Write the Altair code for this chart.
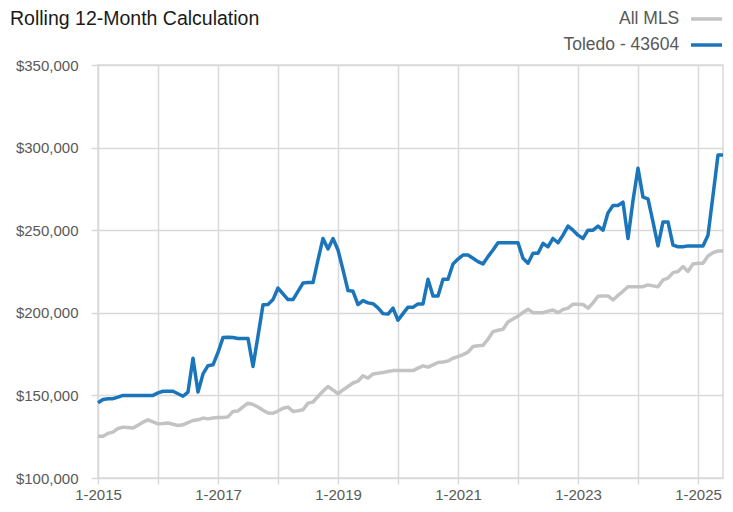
import altair as alt
import pandas as pd

FONT = "Liberation Sans, Arial, sans-serif"

series_names = ["All MLS", "Toledo - 43604"]
series_colors = ["#c3c3c3", "#1b75bb"]

start_year = 2015
# monthly values, Jan 2015 .. Jun 2025 (thousands of dollars)
all_mls = [
    125.2, 125.2, 127, 127.8, 130, 130.8, 130.5, 130.2, 132, 133.8, 135.2, 134,
    132.8, 133, 133.3, 132.5, 131.8, 132.2, 133.5, 134.8, 135.2, 136.3, 135.8, 136.3,
    136.6, 136.6, 137, 140.3, 140.6, 143, 145.3, 144.5, 143, 141, 139.3, 139.2,
    140.5, 142.2, 142.9, 140.3, 140.7, 141.3, 145.3, 146, 149.3, 152.5, 155.4, 153.3,
    151, 153.3, 155.4, 157.5, 158.6, 161.9, 160.5, 163, 163.4, 163.8, 164.5, 165,
    165, 165, 165, 165, 166.5, 167.9, 167.1, 168.5, 169.9, 170.2, 170.8, 172.5,
    173.5, 174.7, 176.2, 179.6, 180, 180.3, 184, 188.6, 189.4, 190, 194.5, 196.3,
    198, 200.2, 202.2, 200.1, 200.1, 200.1, 201, 201.7, 200.1, 202, 202.8, 205.2,
    205.2, 205, 202.8, 206, 210, 210.2, 210.2, 207.8, 210.5, 213, 215.8, 215.8,
    215.8, 215.8, 216.9, 216.3, 215.8, 219.9, 221, 224.3, 225, 228, 225, 229.6,
    230, 230, 234.4, 236.4, 237.4, 237.4,
]
toledo = [
    145.5, 147.5, 148, 148, 149, 150, 150, 150, 150, 150, 150, 150,
    151.5, 152.5, 152.5, 152.5, 151, 149.5, 152, 172.5, 152, 163, 168, 168.5,
    176, 185, 185.2, 185, 184.5, 184.5, 184.5, 167.5, 186, 204.8, 205, 208,
    215, 211.5, 208, 208, 213, 218, 218.3, 218.3, 232, 245, 238.6, 245,
    238, 226, 213.5, 213, 205, 207.4, 206, 205.5, 203, 199.5, 199.2, 202.8,
    195.5, 199.5, 203.4, 203.4, 205.4, 205.4, 220.3, 210.2, 210.2, 220.3, 220.3, 229.5,
    232.5, 235, 235, 233, 231, 229.6, 234, 238, 242.4, 242.4, 242.4, 242.4,
    242.4, 233, 230, 236, 236, 242, 240, 245, 242.4, 247, 252.5, 250,
    247, 245, 250, 250, 252.5, 250, 260.5, 265, 265, 267, 245, 268,
    287.5, 270, 269, 255, 240.5, 255, 255, 241, 240, 240, 240.5, 240.5,
    240.5, 240.5, 247, 271, 295.5, 295.5,
]
y_ticks = [100000, 150000, 200000, 250000, 300000, 350000]

rows = []
for name, vals in zip(series_names, [all_mls, toledo]):
    for i, v in enumerate(vals):
        rows.append({"idx": i, "value": v * 1000, "series": name})
df = pd.DataFrame(rows)

n_months = len(toledo)
x_ticks = list(range(0, n_months, 12))
label_expr = f"datum.value % 24 == 0 ? '1-' + ({start_year} + datum.value / 12) : ''"

chart = (
    alt.Chart(df)
    .mark_line(strokeWidth=3.5, strokeJoin="round")
    .encode(
        x=alt.X(
            "idx:Q",
            scale=alt.Scale(domain=[0, n_months - 1], nice=False, zero=False),
            axis=alt.Axis(
                values=x_ticks,
                labelExpr=label_expr,
                title=None,
                domain=False,
                grid=True,
                gridColor="#d9d9d9",
                gridWidth=1.5,
                tickColor="#d9d9d9",
                tickWidth=1.5,
                tickSize=6,
                labelPadding=3,
                labelFont=FONT,
                labelFontSize=15,
                labelColor="#595959",
                labelFlush=False,
                labelOverlap=False,
            ),
        ),
        y=alt.Y(
            "value:Q",
            scale=alt.Scale(domain=[100000, 350000], nice=False, zero=False),
            axis=alt.Axis(
                values=y_ticks,
                format="$,.0f",
                title=None,
                domain=False,
                grid=True,
                gridColor="#d9d9d9",
                gridWidth=1.5,
                tickColor="#d9d9d9",
                tickWidth=1.5,
                tickSize=7,
                labelPadding=13,
                labelFont=FONT,
                labelFontSize=15,
                labelColor="#595959",
            ),
        ),
        color=alt.Color(
            "series:N",
            scale=alt.Scale(domain=series_names, range=series_colors),
            legend=alt.Legend(
                title=None,
                orient="none",
                legendX=591,
                legendY=-63.5,
                symbolType="stroke",
                symbolSize=961,
                symbolStrokeWidth=3.5,
                labelAlign="right",
                labelOffset={"expr": "-44.7"},
                rowPadding={"expr": "-12"},
                labelFont=FONT,
                labelFontSize=17.5,
                labelColor="#595959",
                padding=0,
            ),
        ),
        detail="series:N",
    )
    .properties(
        width=625,
        height=413,
        autosize=alt.AutoSizeParams(type="none"),
        padding={"left": 90, "top": 57, "right": 2, "bottom": 26},
        title=alt.TitleParams(
            "Rolling 12-Month Calculation",
            anchor="start",
            frame="group",
            dx=-88,
            dy=32,
            font=FONT,
            fontSize=19.5,
            fontWeight="normal",
            color="#1a1a1a",
        ),
    )
    .configure_view(stroke="#d9d9d9", strokeWidth=1.5)
)

chart.save("out.html", embed_options={"renderer": "svg", "actions": False})
